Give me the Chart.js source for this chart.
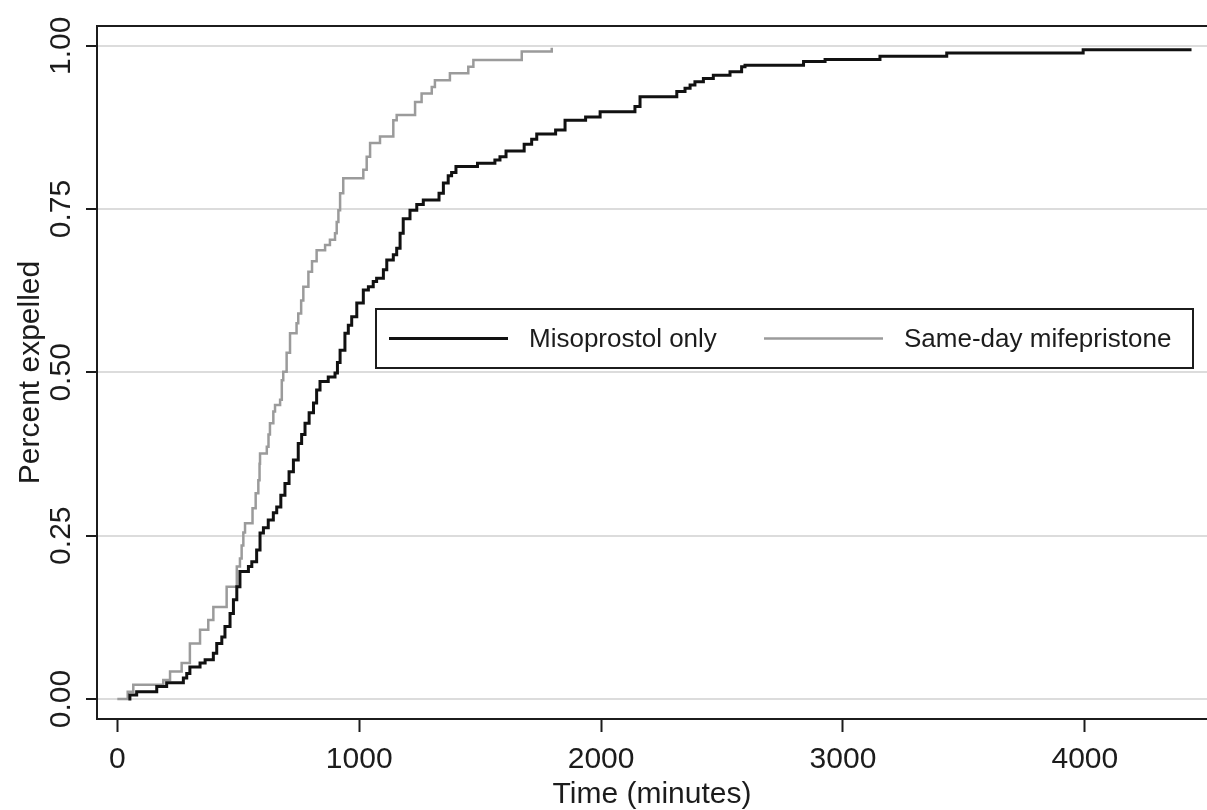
<!DOCTYPE html>
<html>
<head>
<meta charset="utf-8">
<title>Time to expulsion</title>
<script src="https://cdn.jsdelivr.net/npm/chart.js@4.4.1/dist/chart.umd.min.js"></script>
<style>
  html, body { margin: 0; padding: 0; background: #fff; }
  #wrap { width: 1207px; height: 810px; }
</style>
</head>
<body>
<div id="wrap"><canvas id="km" width="1207" height="810"></canvas></div>
<script>
/* Kaplan-Meier style cumulative expulsion curves, two arms. */

// Event times (minutes) and cumulative proportion expelled after each step
const misoTime = [46, 52, 80, 163, 204, 273, 287, 300, 342, 363, 397, 411, 432, 445, 466, 480, 494, 507,
  542, 556, 576, 590, 604, 624, 645, 659, 676, 693, 710, 728, 748, 762, 776, 793, 811, 824, 838, 872,
  900, 910, 921, 941, 955, 969, 990, 1017, 1038, 1058, 1072, 1100, 1114, 1141, 1155, 1169, 1182, 1210,
  1238, 1265, 1330, 1348, 1368, 1382, 1400, 1489, 1561, 1582, 1607, 1682, 1713, 1734, 1812, 1851, 1936,
  1996, 2140, 2161, 2313, 2347, 2368, 2388, 2423, 2464, 2533, 2581, 2595, 2837, 2926, 3153, 3429, 3993, 4441];
const misoValue = [0, 0.006, 0.011, 0.019, 0.025, 0.032, 0.039, 0.049, 0.055, 0.060, 0.070, 0.085, 0.095,
  0.111, 0.131, 0.152, 0.172, 0.195, 0.203, 0.210, 0.228, 0.254, 0.262, 0.274, 0.285, 0.294, 0.312, 0.330,
  0.348, 0.366, 0.391, 0.405, 0.422, 0.438, 0.453, 0.473, 0.486, 0.493, 0.499, 0.515, 0.534, 0.560, 0.572,
  0.585, 0.606, 0.626, 0.631, 0.639, 0.644, 0.657, 0.672, 0.680, 0.690, 0.713, 0.735, 0.748, 0.757, 0.764,
  0.774, 0.790, 0.801, 0.806, 0.815, 0.820, 0.825, 0.830, 0.839, 0.849, 0.857, 0.865, 0.871, 0.886, 0.891,
  0.899, 0.907, 0.922, 0.930, 0.935, 0.940, 0.945, 0.950, 0.955, 0.960, 0.968, 0.970, 0.976, 0.979, 0.984,
  0.989, 0.994, 0.994];

const mifeTime = [0, 43, 66, 190, 218, 266, 300, 342, 376, 397, 452, 494, 507, 514, 521, 528, 559, 572,
  583, 588, 590, 618, 625, 631, 645, 652, 673, 680, 686, 700, 714, 741, 748, 760, 769, 790, 805, 824, 859,
  879, 900, 907, 914, 921, 934, 1017, 1031, 1045, 1086, 1141, 1155, 1231, 1258, 1300, 1313, 1375, 1451,
  1472, 1672, 1796];
const mifeValue = [0, 0.011, 0.022, 0.029, 0.042, 0.055, 0.085, 0.106, 0.121, 0.141, 0.172, 0.203, 0.215,
  0.235, 0.255, 0.269, 0.292, 0.315, 0.335, 0.360, 0.376, 0.386, 0.405, 0.422, 0.440, 0.450, 0.458, 0.488,
  0.501, 0.530, 0.560, 0.575, 0.590, 0.610, 0.631, 0.654, 0.670, 0.687, 0.695, 0.703, 0.713, 0.730, 0.748,
  0.774, 0.797, 0.810, 0.830, 0.851, 0.861, 0.886, 0.894, 0.914, 0.927, 0.937, 0.947, 0.958, 0.968, 0.978,
  0.991, 0.997];

const seriesLabels = ['Misoprostol only', 'Same-day mifepristone'];
const xTicks = [0, 1000, 2000, 3000, 4000];
const yTicks = [0, 0.25, 0.5, 0.75, 1];

(function () {
  'use strict';

  const FONT = "'Liberation Sans', Arial, Helvetica, sans-serif";
  const INK = '#1c1c1c';
  const GRID = '#dcdcdc';
  const COLORS = ['#111111', '#9b9b9b'];

  const pairs = (xs, ys) => xs.map((x, i) => ({ x: x, y: ys[i] }));

  // Top edge of the plot box (left/bottom come from the axis borders).
  const frame = {
    id: 'frame',
    afterDatasetsDraw(chart) {
      const { ctx, chartArea: a } = chart;
      ctx.save();
      ctx.strokeStyle = INK;
      ctx.lineWidth = 2;
      ctx.beginPath();
      ctx.moveTo(a.left, a.top);
      ctx.lineTo(a.right, a.top);
      ctx.stroke();
      ctx.restore();
    },
  };

  // Stata-like boxed legend sitting inside the plot area.
  const boxLegend = {
    id: 'boxLegend',
    afterDraw(chart) {
      const { ctx, chartArea: a } = chart;
      const left = a.left + 279, top = a.top + 283, w = 817, h = 59;
      const mid = top + h / 2;
      ctx.save();
      ctx.fillStyle = '#fff';
      ctx.fillRect(left, top, w, h);
      ctx.strokeStyle = INK;
      ctx.lineWidth = 2;
      ctx.strokeRect(left, top, w, h);
      ctx.font = '26px ' + FONT;
      ctx.textBaseline = 'middle';
      ctx.fillStyle = INK;
      const slots = [13, 388];
      chart.data.datasets.forEach((ds, i) => {
        const x0 = left + slots[i];
        ctx.strokeStyle = ds.borderColor;
        ctx.lineWidth = ds.borderWidth;
        ctx.beginPath();
        ctx.moveTo(x0, mid);
        ctx.lineTo(x0 + 119, mid);
        ctx.stroke();
        ctx.fillText(ds.label, x0 + 140, mid + 1);
      });
      ctx.restore();
    },
  };

  const ctx = document.getElementById('km').getContext('2d');

  new Chart(ctx, {
    type: 'line',
    data: {
      datasets: [
        {
          label: seriesLabels[0],
          data: pairs(misoTime, misoValue),
          borderColor: COLORS[0],
          borderWidth: 3,
          stepped: 'before',
          pointRadius: 0,
          fill: false,
        },
        {
          label: seriesLabels[1],
          data: pairs(mifeTime, mifeValue),
          borderColor: COLORS[1],
          borderWidth: 2.5,
          stepped: 'before',
          pointRadius: 0,
          fill: false,
        },
      ],
    },
    options: {
      responsive: false,
      animation: false,
      events: [],
      layout: { padding: { top: 26, left: 0, right: 0, bottom: 0 } },
      plugins: { legend: { display: false }, tooltip: { enabled: false } },
      scales: {
        x: {
          type: 'linear',
          min: -84,
          max: 4505,
          afterBuildTicks: (s) => { s.ticks = xTicks.map((v) => ({ value: v })); },
          afterFit: (s) => { s.height = 91; },
          border: { color: INK, width: 2 },
          grid: { drawOnChartArea: false, drawTicks: true, tickLength: 13, tickColor: INK, tickWidth: 2 },
          ticks: {
            color: INK, padding: 10, maxRotation: 0, autoSkip: false,
            font: { family: FONT, size: 30 },
            callback: (v) => String(v),
          },
          title: {
            display: true, text: 'Time (minutes)', color: INK,
            font: { family: FONT, size: 30, lineHeight: 1.2 },
            padding: { top: 0, bottom: -3 },
          },
        },
        y: {
          min: -0.0306,
          max: 1.0302,
          afterBuildTicks: (s) => { s.ticks = yTicks.map((v) => ({ value: v })); },
          afterFit: (s) => { s.width = 97; },
          border: { color: INK, width: 2 },
          grid: { color: GRID, lineWidth: 2, drawTicks: true, tickLength: 11, tickColor: INK, tickWidth: 2 },
          ticks: {
            color: INK, padding: -5, minRotation: 90, maxRotation: 90, crossAlign: 'center', autoSkip: false,
            font: { family: FONT, size: 30 },
            callback: (v) => Number(v).toFixed(2),
          },
          title: {
            display: true, text: 'Percent expelled', color: INK,
            font: { family: FONT, size: 30, lineHeight: 1.2 },
            padding: { top: 13, bottom: 0 },
          },
        },
      },
    },
    plugins: [frame, boxLegend],
  });
})();
</script>
</body>
</html>
